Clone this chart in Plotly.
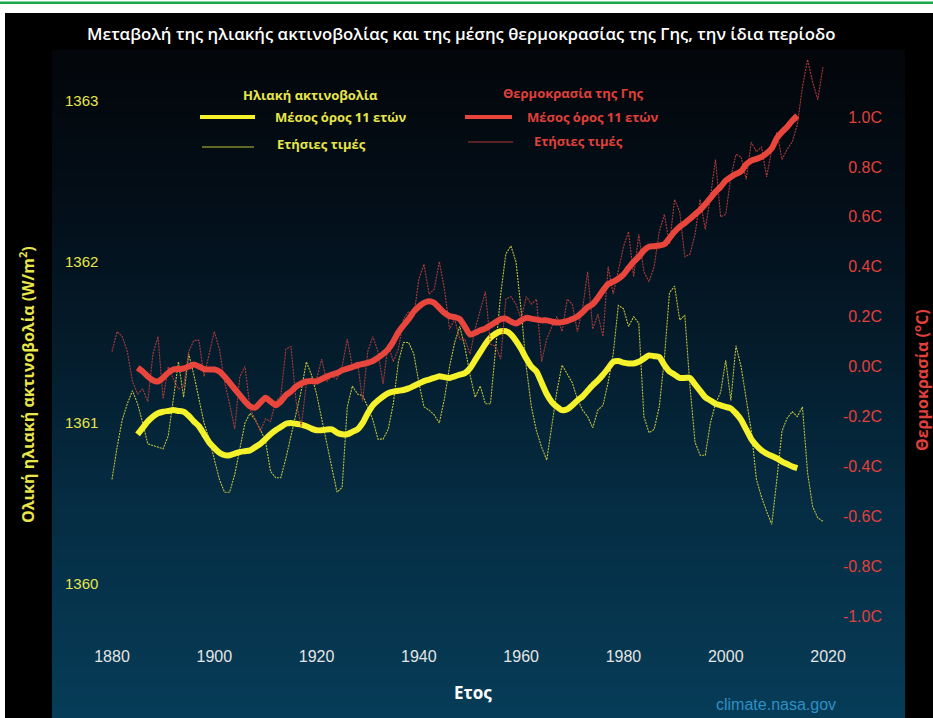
import plotly.graph_objects as go

# ---------------- DATA ----------------
years_annual = list(range(1880, 2020))
tsi_annual = [
    1360.65, 1360.85, 1361.02, 1361.12, 1361.20, 1361.12, 1361.00, 1360.87, 1360.86, 1360.85,
    1360.84, 1360.92, 1361.15, 1361.38, 1361.16, 1361.43, 1361.30, 1361.15, 1361.00, 1360.90,
    1360.78, 1360.65, 1360.57, 1360.57, 1360.68, 1360.83, 1361.00, 1361.06, 1361.02, 1360.96,
    1360.89, 1360.70, 1360.66, 1360.66, 1360.78, 1360.92, 1361.06, 1361.20, 1361.38, 1361.30,
    1361.18, 1361.02, 1360.87, 1360.72, 1360.57, 1360.60, 1361.10, 1361.23, 1361.18, 1361.17,
    1361.10, 1361.02, 1360.90, 1360.90, 1360.96, 1361.12, 1361.38, 1361.50, 1361.50, 1361.43,
    1361.25, 1361.10, 1361.08, 1361.05, 1361.00, 1361.15, 1361.35, 1361.50, 1361.60, 1361.47,
    1361.30, 1361.16, 1361.23, 1361.12, 1361.12, 1361.45, 1361.80, 1362.05, 1362.10, 1362.00,
    1361.70, 1361.35, 1361.10, 1360.95, 1360.85, 1360.77, 1361.00, 1361.20, 1361.36, 1361.30,
    1361.25, 1361.15, 1361.08, 1361.04, 1360.97, 1361.08, 1361.11, 1361.25, 1361.43, 1361.73,
    1361.71, 1361.60, 1361.66, 1361.62, 1361.04, 1360.94, 1360.96, 1361.10, 1361.40, 1361.81,
    1361.85, 1361.64, 1361.67, 1361.23, 1360.88, 1360.80, 1360.80, 1361.00, 1361.12, 1361.19,
    1361.39, 1361.14, 1361.48, 1361.35, 1361.15, 1360.95, 1360.65, 1360.54, 1360.45, 1360.37,
    1360.65, 1360.95, 1361.03, 1361.07, 1361.04, 1361.10, 1360.69, 1360.48, 1360.41, 1360.39,
]
temp_annual = [
    0.06, 0.14, 0.12, 0.06, -0.06, -0.11, -0.09, -0.14, 0.05, 0.12,
    -0.13, 0.00, -0.05, -0.09, -0.08, 0.06, 0.105, 0.105, -0.04, 0.05,
    0.14, 0.07, -0.06, -0.15, -0.25, -0.04, 0.00, -0.17, -0.21, -0.26,
    -0.21, -0.22, -0.14, -0.12, 0.07, 0.08, -0.14, -0.24, -0.07, -0.05,
    -0.05, 0.03, -0.06, -0.04, -0.05, 0.00, 0.11, 0.00, 0.02, -0.14,
    0.06, 0.12, 0.06, -0.07, 0.09, 0.02, 0.07, 0.19, 0.22, 0.20,
    0.35, 0.41, 0.29, 0.31, 0.42, 0.31, 0.15, 0.19, 0.11, 0.11,
    0.05, 0.15, 0.23, 0.30, 0.09, 0.08, 0.03, 0.27, 0.28, 0.25,
    0.19, 0.28, 0.25, 0.27, 0.02, 0.11, 0.16, 0.20, 0.14, 0.27,
    0.25, 0.14, 0.23, 0.38, 0.15, 0.21, 0.12, 0.40, 0.29, 0.38,
    0.48, 0.54, 0.36, 0.53, 0.38, 0.34, 0.40, 0.54, 0.61, 0.49,
    0.67, 0.62, 0.44, 0.45, 0.53, 0.67, 0.55, 0.68, 0.83, 0.60,
    0.61, 0.76, 0.85, 0.84, 0.75, 0.90, 0.86, 0.88, 0.76, 0.87,
    0.94, 0.83, 0.87, 0.90, 0.97, 1.12, 1.23, 1.14, 1.07, 1.20,
]
years_mean = list(range(1885, 2015))
tsi_mean = [
    1360.93, 1360.97, 1361.01, 1361.04, 1361.06, 1361.07, 1361.075, 1361.08, 1361.075, 1361.07,
    1361.045, 1361.01, 1360.98, 1360.93, 1360.88, 1360.845, 1360.815, 1360.80, 1360.80, 1360.81,
    1360.82, 1360.825, 1360.83, 1360.85, 1360.87, 1360.90, 1360.93, 1360.955, 1360.975, 1360.995,
    1361.00, 1360.995, 1360.99, 1360.98, 1360.965, 1360.955, 1360.955, 1360.96, 1360.96, 1360.94,
    1360.93, 1360.93, 1360.945, 1360.96, 1361.00, 1361.06, 1361.11, 1361.14, 1361.165, 1361.185,
    1361.195, 1361.20, 1361.205, 1361.215, 1361.23, 1361.245, 1361.26, 1361.27, 1361.28, 1361.29,
    1361.285, 1361.28, 1361.29, 1361.30, 1361.31, 1361.34, 1361.39, 1361.44, 1361.49, 1361.53,
    1361.555, 1361.57, 1361.57, 1361.55, 1361.51, 1361.46, 1361.40, 1361.35, 1361.32, 1361.25,
    1361.18, 1361.13, 1361.10, 1361.08, 1361.085, 1361.11, 1361.14, 1361.165, 1361.20, 1361.235,
    1361.265, 1361.30, 1361.34, 1361.38, 1361.385, 1361.375, 1361.37, 1361.37, 1361.38, 1361.40,
    1361.42, 1361.415, 1361.41, 1361.36, 1361.32, 1361.30, 1361.28, 1361.28, 1361.28, 1361.24,
    1361.20, 1361.16, 1361.14, 1361.12, 1361.11, 1361.10, 1361.09, 1361.06, 1361.02, 1360.96,
    1360.90, 1360.86, 1360.83, 1360.81, 1360.795, 1360.78, 1360.76, 1360.745, 1360.73, 1360.72,
]
temp_mean = [
    -0.005, -0.02, -0.04, -0.055, -0.06, -0.045, -0.025, -0.012, -0.01, -0.008,
    0.0, 0.008, 0.0, -0.01, -0.012, -0.012, -0.02, -0.04, -0.065, -0.09,
    -0.115, -0.14, -0.16, -0.165, -0.145, -0.125, -0.14, -0.155, -0.14, -0.115,
    -0.10, -0.08, -0.068, -0.06, -0.058, -0.06, -0.05, -0.04, -0.032, -0.026,
    -0.015, -0.008, -0.002, 0.005, 0.01, 0.015, 0.022, 0.035, 0.05, 0.07,
    0.10, 0.138, 0.165, 0.19, 0.22, 0.24, 0.255, 0.262, 0.255, 0.235,
    0.215, 0.202, 0.198, 0.19, 0.16, 0.128, 0.135, 0.145, 0.152, 0.165,
    0.178, 0.19, 0.192, 0.18, 0.172, 0.185, 0.195, 0.192, 0.188, 0.185,
    0.185, 0.18, 0.176, 0.178, 0.182, 0.19, 0.20, 0.218, 0.238, 0.25,
    0.275, 0.305, 0.33, 0.34, 0.352, 0.368, 0.395, 0.42, 0.44, 0.465,
    0.48, 0.482, 0.485, 0.49, 0.515, 0.54, 0.56, 0.575, 0.592, 0.61,
    0.628, 0.65, 0.675, 0.70, 0.72, 0.745, 0.76, 0.772, 0.782, 0.81,
    0.825, 0.832, 0.84, 0.855, 0.875, 0.915, 0.94, 0.96, 0.985, 1.005,
]
x_ticks = [1880, 1900, 1920, 1940, 1960, 1980, 2000, 2020]
tsi_ticks = [1360, 1361, 1362, 1363]
temp_ticks = [-1.0, -0.8, -0.6, -0.4, -0.2, 0.0, 0.2, 0.4, 0.6, 0.8, 1.0]
temp_tick_text = [f"{v:.1f}C" for v in temp_ticks]

title_text = "Μεταβολή της ηλιακής ακτινοβολίας και της μέσης θερμοκρασίας της Γης, την ίδια περίοδο"
left_title = "Ολική ηλιακή ακτινοβολία (W/m<sup>2</sup>)"
right_title = "Θερμοκρασία (<sup>o</sup>C)"
x_title = "Ετος"

# ---------------- LAYOUT GEOMETRY ----------------
W, H = 933, 718
PL, PR, PT, PB = 52, 905, 60, 635  # plot area in pixels

def px(x):
    return (x - PL) / (PR - PL)

def py(y):
    return (PB - y) / (PB - PT)

YEL_MEAN = "#f5f22c"
YEL_ANN = "#c2c23c"
RED_MEAN = "#e8463c"
RED_ANN = "#b03a3a"
YEL_TXT = "#e8e64a"
RED_TXT = "#e0403c"

fig = go.Figure()
fig.add_trace(go.Scatter(x=years_annual, y=temp_annual, yaxis="y2", mode="lines",
                         line=dict(color=RED_ANN, width=1.1, dash="2px,1px"), showlegend=False))
fig.add_trace(go.Scatter(x=years_annual, y=tsi_annual, mode="lines",
                         line=dict(color=YEL_ANN, width=1.1, dash="2px,1px"), showlegend=False))
fig.add_trace(go.Scatter(x=years_mean, y=temp_mean, yaxis="y2", mode="lines",
                         line=dict(color=RED_MEAN, width=6, shape="spline", smoothing=0.6), showlegend=False))
fig.add_trace(go.Scatter(x=years_mean, y=tsi_mean, mode="lines",
                         line=dict(color=YEL_MEAN, width=6, shape="spline", smoothing=0.6), showlegend=False))

shapes = []
# white page + green line + black frame
shapes.append(dict(type="rect", xref="paper", yref="paper", x0=px(0), x1=px(W), y0=py(H), y1=py(0),
                   fillcolor="white", line_width=0, layer="below"))
shapes.append(dict(type="rect", xref="paper", yref="paper", x0=px(0), x1=px(W), y0=py(4), y1=py(1.5),
                   fillcolor="#1aa84a", line_width=0, layer="below"))
shapes.append(dict(type="rect", xref="paper", yref="paper", x0=px(5), x1=px(W), y0=py(H), y1=py(13),
                   fillcolor="#000000", line_width=0, layer="below"))
# gradient panel
stops = [(50, (3, 6, 10)), (200, (3, 14, 24)), (350, (4, 28, 44)), (500, (5, 44, 66)), (718, (6, 60, 88))]
def col_at(y):
    for (ya, ca), (yb, cb) in zip(stops[:-1], stops[1:]):
        if ya <= y <= yb:
            t = (y - ya) / (yb - ya)
            return tuple(round(ca[i] + t * (cb[i] - ca[i])) for i in range(3))
    return stops[-1][1]
step = 6
y = 50
while y < H:
    c = col_at(y + step / 2)
    shapes.append(dict(type="rect", xref="paper", yref="paper", x0=px(52), x1=px(905),
                       y0=py(min(y + step, H)), y1=py(y),
                       fillcolor=f"rgb({c[0]},{c[1]},{c[2]})", line_width=0, layer="below"))
    y += step
# legend samples
shapes.append(dict(type="line", xref="paper", yref="paper", x0=px(200), x1=px(255), y0=py(117), y1=py(117),
                   line=dict(color=YEL_MEAN, width=4)))
shapes.append(dict(type="line", xref="paper", yref="paper", x0=px(202), x1=px(254), y0=py(147), y1=py(147),
                   line=dict(color=YEL_ANN, width=1)))
shapes.append(dict(type="line", xref="paper", yref="paper", x0=px(465), x1=px(512), y0=py(117), y1=py(117),
                   line=dict(color=RED_MEAN, width=4)))
shapes.append(dict(type="line", xref="paper", yref="paper", x0=px(468), x1=px(513), y0=py(142), y1=py(142),
                   line=dict(color=RED_ANN, width=1)))

ann = []
def add_text(text, x, y, color, size, family="Open Sans", weight="bold", xanchor="center", angle=0, bg=None):
    d = dict(text=text, xref="paper", yref="paper", x=px(x), y=py(y), xanchor=xanchor, yanchor="middle",
             showarrow=False, textangle=angle,
             font=dict(color=color, size=size, family=family, weight=weight))
    if bg:
        d["bgcolor"] = bg
    ann.append(d)

add_text(title_text, 461, 33, "#ffffff", 16.8, weight=600)
add_text("Ηλιακή ακτινοβολία", 310, 95, YEL_TXT, 13)
add_text("Μέσος όρος 11 ετών", 273, 117, YEL_TXT, 13, xanchor="left")
add_text("Ετήσιες τιμές", 275, 144, YEL_TXT, 13, xanchor="left")
add_text("Θερμοκρασία της Γης", 573, 93, RED_TXT, 13)
add_text("Μέσος όρος 11 ετών", 525, 117, RED_TXT, 13, xanchor="left")
add_text("Ετήσιες τιμές", 532, 141, RED_TXT, 13, xanchor="left")
add_text(left_title, 27, 385, YEL_TXT, 16, angle=-90, bg="#000000")
add_text(right_title, 921, 380, RED_TXT, 16, angle=-90)
add_text(x_title, 473, 692, "#ffffff", 17)
add_text("climate.nasa.gov", 776, 704, "#2f8fc4", 16, family="Liberation Sans", weight="normal")

fig.update_layout(
    width=W, height=H,
    margin=dict(l=PL, r=W - PR, t=PT, b=H - PB, pad=0),
    paper_bgcolor="white", plot_bgcolor="rgba(0,0,0,0)",
    showlegend=False,
    shapes=shapes, annotations=ann,
    xaxis=dict(range=[1868.27, 2035.05], tickvals=x_ticks, showgrid=False, zeroline=False,
               showline=False, ticks="", tickfont=dict(color="#e4e4e4", size=16, family="Liberation Sans"),
               ticklabelstandoff=10),
    yaxis=dict(range=[1359.683, 1363.255], tickvals=tsi_ticks, showgrid=False, zeroline=False,
               showline=False, ticks="", ticklabelposition="inside", ticklabelstandoff=10,
               tickfont=dict(color=YEL_TXT, size=15, family="Liberation Sans")),
    yaxis2=dict(range=[-1.076, 1.2285], tickvals=temp_ticks, ticktext=temp_tick_text, overlaying="y",
                side="right", showgrid=False, zeroline=False, showline=False, ticks="",
                ticklabelposition="inside", ticklabelstandoff=20,
                tickfont=dict(color=RED_TXT, size=16, family="Liberation Sans")),
)

fig.write_html("out.html", config={"displayModeBar": False},
               post_script="document.body.style.margin='0';document.body.style.overflow='hidden';")
